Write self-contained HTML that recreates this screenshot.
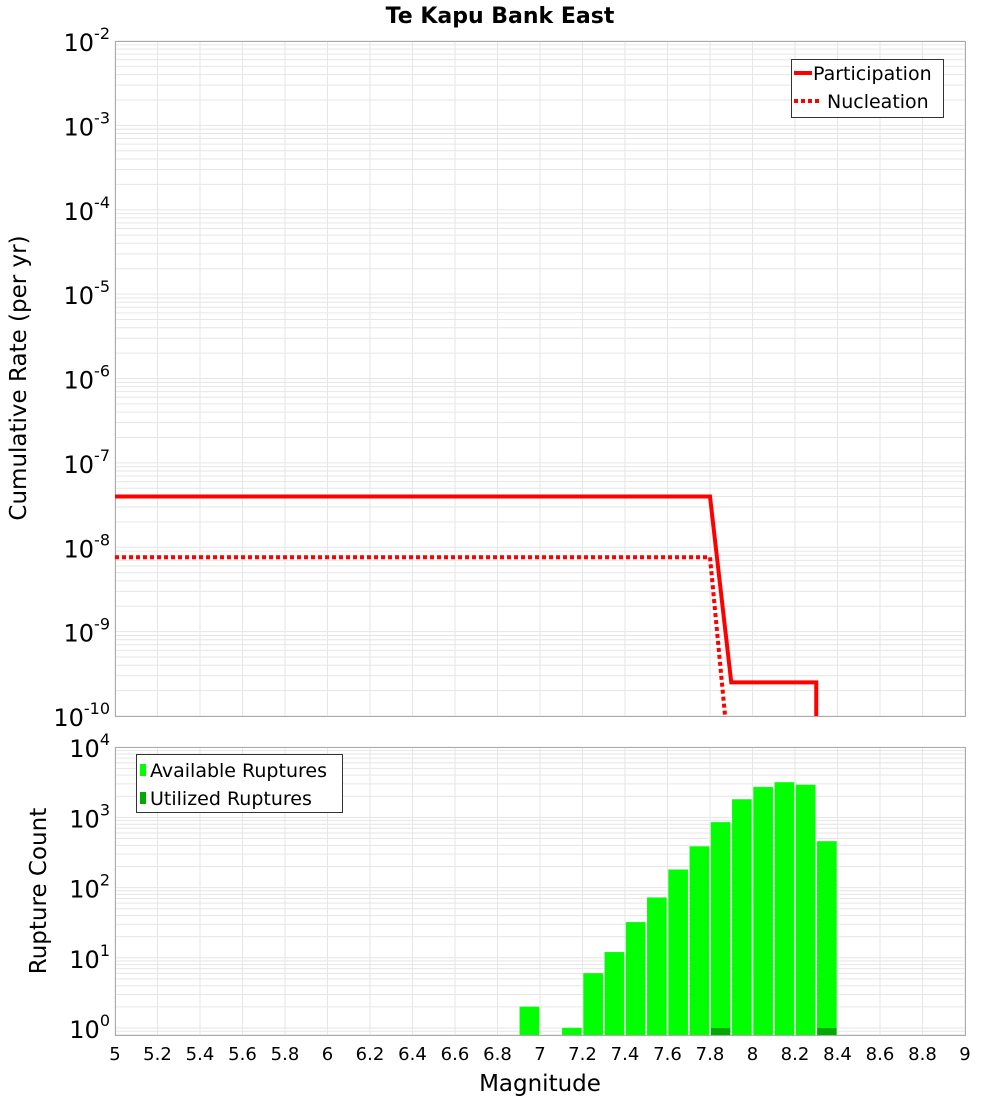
<!DOCTYPE html>
<html><head><meta charset="utf-8"><style>
body{margin:0;background:#fff}
svg{display:block;font-family:"DejaVu Sans","Liberation Sans",sans-serif}
</style></head><body>
<svg id="chart" width="1000" height="1100" viewBox="0 0 1000 1100">
<text x="500" y="23" text-anchor="middle" font-size="22" font-weight="bold">Te Kapu Bank East</text>
<g id="gtop"></g><g id="gbot"></g>
<text transform="translate(26,378) rotate(-90)" text-anchor="middle" font-size="23">Cumulative Rate (per yr)</text>
<text transform="translate(46,891) rotate(-90)" text-anchor="middle" font-size="23">Rupture Count</text>
<text x="540" y="1091" text-anchor="middle" font-size="23">Magnitude</text>
</svg>
<script>
const partMag=[5,7.8,7.9,8.3,8.3];
const partRate=[4e-8,4e-8,2.5e-10,2.5e-10,1e-12];
const nuclMag=[5,7.8,7.9];
const nuclRate=[7.6e-9,7.6e-9,1.7e-11];
const binMag=[6.95,7.15,7.25,7.35,7.45,7.55,7.65,7.75,7.85,7.95,8.05,8.15,8.25,8.35];
const availCount=[2,1,6,12,32,72,180,385,850,1800,2700,3150,2900,455];
const utilMag=[7.85,8.35];
const utilCount=[1,1];
const xTicks=[5,5.2,5.4,5.6,5.8,6,6.2,6.4,6.6,6.8,7,7.2,7.4,7.6,7.8,8,8.2,8.4,8.6,8.8,9];
const topDecades=[-10,-9,-8,-7,-6,-5,-4,-3,-2];
const botDecades=[0,1,2,3,4];

const NS='http://www.w3.org/2000/svg';
const X0=115,X1=965;
const xs=m=>X0+(m-5)/4*(X1-X0);
const T0=41,T1=716;
const ysTop=v=>T0+(-2-Math.log10(v))*(T1-T0)/8;
const B0=747,B1=1035;
const ysBot=v=>1028-Math.log10(v)*70.2;
function mk(p,tag,a){const e=document.createElementNS(NS,tag);for(const k in a)e.setAttribute(k,a[k]);p.appendChild(e);return e;}
const gTop=document.getElementById('gtop'),gBot=document.getElementById('gbot');
const defs=mk(document.getElementById('chart'),'defs',{});
const cp1=mk(defs,'clipPath',{id:'c1'});mk(cp1,'rect',{x:X0,y:T0,width:X1-X0,height:T1-T0});
const cp2=mk(defs,'clipPath',{id:'c2'});mk(cp2,'rect',{x:X0,y:B0,width:X1-X0,height:B1-B0});

function grid(g,y0,y1,decs,ys){
  const gg=mk(g,'g',{stroke:'#e6e6e6','stroke-width':1});
  
  
  for(let m=5;m<=9.001;m+=0.2){const x=xs(m);mk(gg,'line',{x1:x,x2:x,y1:y0,y2:y1});}
  for(let d=decs[0]-1;d<=decs[decs.length-1];d++)for(let k=1;k<10;k++){const y=ys(k*Math.pow(10,d));if(y>=y0&&y<=y1)mk(gg,'line',{x1:X0,x2:X1,y1:y,y2:y});}
}
function yLabels(g,decs,ys){
  decs.forEach(d=>{const y=ys(Math.pow(10,d));
    const t=mk(g,'text',{x:110,y:y+10,'text-anchor':'end','font-size':24});
    
    
    const a=document.createElementNS(NS,'tspan');a.textContent='10';t.appendChild(a);
    const b=document.createElementNS(NS,'tspan');b.setAttribute('dy','-12');b.setAttribute('font-size','16');b.textContent=String(d);t.appendChild(b);
  });
}
grid(gTop,T0,T1,topDecades,ysTop);
const tf=mk(gTop,'rect',{x:X0+0.5,y:T0+0.5,width:X1-X0,height:T1-T0,fill:'none',stroke:'#aaa'});


yLabels(gTop,topDecades,ysTop);
const lg=mk(gTop,'g',{'clip-path':'url(#c1)'});
const pl=mk(lg,'polyline',{points:partMag.map((m,i)=>xs(m)+','+ysTop(partRate[i])).join(' '),fill:'none',stroke:'#f00','stroke-width':4});


const nl=mk(lg,'polyline',{points:nuclMag.map((m,i)=>xs(m)+','+ysTop(nuclRate[i])).join(' '),fill:'none',stroke:'#f00','stroke-width':4,'stroke-dasharray':'4 3'});


const l1=mk(gTop,'g',{});


mk(l1,'rect',{x:791.5,y:59.5,width:152,height:58,fill:'#fff',stroke:'#333'});
mk(l1,'line',{x1:794,x2:812,y1:73,y2:73,stroke:'#f00','stroke-width':4});
mk(l1,'line',{x1:794,x2:822,y1:101,y2:101,stroke:'#f00','stroke-width':4,'stroke-dasharray':'4 3'});
const lt1=mk(l1,'text',{x:813,y:80,'font-size':19});lt1.textContent='Participation';
const lt2=mk(l1,'text',{x:827,y:108,'font-size':19});lt2.textContent='Nucleation';
grid(gBot,B0,B1,botDecades,ysBot);
yLabels(gBot,botDecades,ysBot);
const bg=mk(gBot,'g',{'clip-path':'url(#c2)'});
const bw=(xs(0.1)-xs(0))-2;
binMag.forEach((m,i)=>{const y=ysBot(availCount[i]);
  const r=mk(bg,'rect',{x:xs(m)-bw/2,y:y,width:bw,height:B1-y,fill:'#00ff00',stroke:'#33ee33','stroke-width':0.5});
  
  });
utilMag.forEach((m,i)=>{const y=ysBot(utilCount[i]);
  const r=mk(bg,'rect',{x:xs(m)-bw/2,y:y,width:bw,height:B1-y,fill:'#00aa00'});
  
  });
const bf=mk(gBot,'rect',{x:X0+0.5,y:B0+0.5,width:X1-X0,height:B1-B0,fill:'none',stroke:'#aaa'});


xTicks.forEach(m=>{const t=mk(gBot,'text',{x:xs(m),y:1060,'text-anchor':'middle','font-size':18});t.textContent=String(m);
  
  });
const l2=mk(gBot,'g',{});


mk(l2,'rect',{x:136.5,y:754.5,width:206,height:58,fill:'#fff',stroke:'#333'});
mk(l2,'rect',{x:140,y:764,width:6,height:12,fill:'#00ff00'});
mk(l2,'rect',{x:140,y:792,width:6,height:12,fill:'#00aa00'});
const lt3=mk(l2,'text',{x:150,y:777,'font-size':19});lt3.textContent='Available Ruptures';
const lt4=mk(l2,'text',{x:150,y:805,'font-size':19});lt4.textContent='Utilized Ruptures';
</script>
</body></html>
